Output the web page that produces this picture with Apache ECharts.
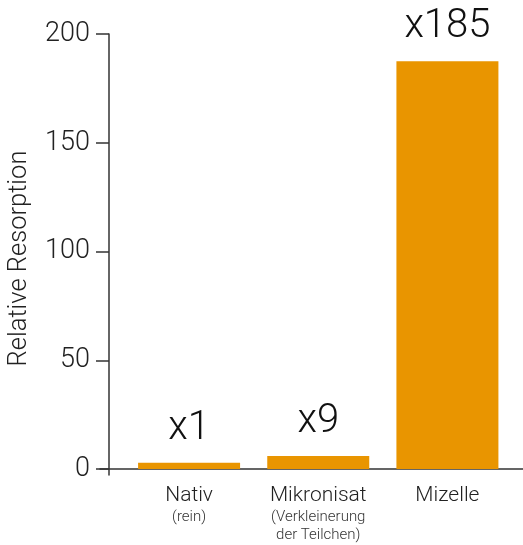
<!DOCTYPE html>
<html>
<head>
<meta charset="utf-8">
<script src="https://cdn.jsdelivr.net/npm/echarts@6/dist/echarts.min.js"></script>
<style>html,body{margin:0;padding:0;background:#fff}#c{width:523px;height:545px}</style>
</head>
<body>
<div id="c"></div>
<script>
const categories = ['Nativ', 'Mikronisat', 'Mizelle'];
const subtitles = ['(rein)', '(Verkleinerung\nder Teilchen)', ''];
const values = [2.9, 6.0, 187.5];
const valueLabels = ['x1', 'x9', 'x185'];
const yTicks = [0, 50, 100, 150, 200];

const FONT = 'Roboto';
const chart = echarts.init(document.getElementById('c'));
chart.setOption({
  animation: false,
  textStyle: { fontFamily: FONT },
  grid: [
    { left: 124.5, right: 11, top: 34, bottom: 76, outerBoundsMode: 'none', containLabel: false },
    { left: 100, right: 0, top: 34, bottom: 76, outerBoundsMode: 'none', containLabel: false },
    { left: 109, right: 0, top: 34, bottom: 70, outerBoundsMode: 'none', containLabel: false }
  ],
  xAxis: [
    {
      type: 'category', gridIndex: 0, data: categories,
      axisLine: { show: false }, axisTick: { show: false },
      axisLabel: {
        interval: 0, margin: 15,
        formatter: (v, i) => subtitles[i] ? '{a|' + v + '}\n{b|' + subtitles[i] + '}' : '{a|' + v + '}',
        rich: {
          a: { fontFamily: FONT, fontWeight: 300, fontSize: 21, color: '#222', lineHeight: 24 },
          b: { fontFamily: FONT, fontWeight: 300, fontSize: 15, color: '#333', lineHeight: 18, align: 'center' }
        }
      }
    },
    {
      type: 'value', gridIndex: 1, min: 0, max: 1,
      axisLine: { show: true, lineStyle: { color: '#333', width: 1.5 } },
      axisTick: { show: false }, axisLabel: { show: false }, splitLine: { show: false }
    },
    { type: 'value', gridIndex: 2, min: 0, max: 1, show: false }
  ],
  yAxis: [
    {
      type: 'value', gridIndex: 0, min: 0, max: 200, interval: 50, offset: 15.5,
      name: 'Relative Resorption', nameLocation: 'middle', nameGap: 76, nameRotate: 90,
      nameTextStyle: { fontFamily: FONT, fontWeight: 300, fontSize: 25.5, color: '#222', padding: [0, 14, 0, 0] },
      axisLine: { show: false },
      axisTick: { show: true, length: 13, lineStyle: { color: '#333', width: 1.5 } },
      axisLabel: {
        margin: 19, fontFamily: FONT, fontWeight: 300, fontSize: 27, color: '#222',
        customValues: yTicks
      },
      splitLine: { show: false }
    },
    { type: 'value', gridIndex: 1, min: 0, max: 1, show: false },
    {
      type: 'value', gridIndex: 2, min: 0, max: 1,
      axisLine: { show: true, lineStyle: { color: '#333', width: 1.5 } },
      axisTick: { show: false }, axisLabel: { show: false }, splitLine: { show: false }
    }
  ],
  series: [
    {
      type: 'bar', xAxisIndex: 0, yAxisIndex: 0, data: values, barWidth: 102,
      itemStyle: { color: '#E99500' },
      label: {
        show: true, position: 'top', distance: 14,
        formatter: p => valueLabels[p.dataIndex],
        fontFamily: FONT, fontWeight: 300, fontSize: 40, color: '#111'
      }
    }
  ]
});
</script>
</body>
</html>
